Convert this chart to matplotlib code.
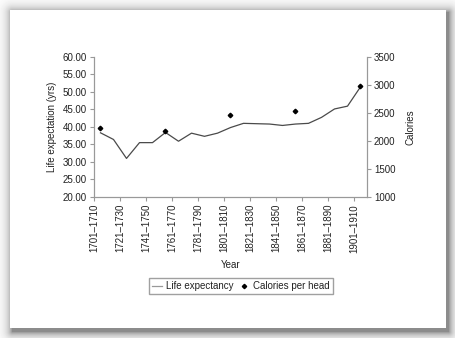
import numpy as np
import matplotlib.pyplot as plt
from matplotlib.patches import Rectangle
from matplotlib.lines import Line2D

plt.rcParams['font.family'] = ['Liberation Sans', 'DejaVu Sans']
plt.rcParams['font.size'] = 7

# Decades 1701-1710 ... 1901-1910
periods = [f"{y}\u2013{y + 9}" for y in range(1701, 1911, 10)]

life_expectancy = [38.3, 36.4, 31.0, 35.5, 35.5, 38.4, 35.9, 38.2, 37.3, 38.2,
                   39.8, 41.0, 40.9, 40.8, 40.4, 40.8, 41.0, 42.7, 45.1, 45.9, 51.4]

# Calories per head only known every fifty years
calories = [2225, np.nan, np.nan, np.nan, np.nan, 2175, np.nan, np.nan, np.nan, np.nan,
            2455, np.nan, np.nan, np.nan, np.nan, 2525, np.nan, np.nan, np.nan, np.nan, 2970]

W, H = 456, 338
fig = plt.figure(figsize=(W / 100, H / 100), dpi=100)

# drop shadow behind the white panel
px0, py0, px1, py1 = 10, 10, 446, 328
yy, xx = np.mgrid[0:H, 0:W]
dx = np.maximum(np.maximum(px0 + 2 - xx, xx - (px1 + 2)), 0)
dy = np.maximum(np.maximum(py0 + 2 - yy, yy - (py1 + 3)), 0)
dist = np.hypot(dx, dy)
shade = 1 - 0.45 * np.exp(-dist / 5)
fig.figimage(shade, cmap='gray', vmin=0, vmax=1, origin='upper', zorder=-3)
fig.patches.append(Rectangle((px0 / W, 1 - py1 / H), (px1 - px0) / W, (py1 - py0) / H,
                             transform=fig.transFigure, facecolor='white',
                             edgecolor='none', zorder=-2))

ax = fig.add_axes([94 / W, 1 - 197 / H, (367 - 94) / W, (197 - 56.7) / H])
ax.set_facecolor('none')
ax2 = ax.twinx()

x = np.arange(len(periods)) + 0.5
ax.plot(x, life_expectancy, color='#4a4a4a', lw=0.9)
ax2.plot(x, calories, linestyle='none', marker='D', ms=2.3, color='black')

ax.set_xlim(0, len(periods))
ax.set_ylim(20, 60)
ax.set_yticks(np.arange(20, 61, 5))
ax.set_yticklabels([f"{v:.2f}" for v in np.arange(20, 61, 5)])
ax2.set_ylim(1000, 3500)
ax2.set_yticks(np.arange(1000, 3501, 500))

ax.set_xticks(np.arange(0, len(periods), 2))
ax.set_xticklabels(periods[::2], rotation=90)

for a in (ax, ax2):
    for s in a.spines.values():
        s.set_color('#999999')
        s.set_linewidth(0.8)
    a.tick_params(colors='#999999', labelcolor='#222222', length=3, width=0.8, pad=2)
ax2.spines['top'].set_visible(False)
ax.spines['top'].set_visible(False)

ax.set_ylabel('Life expectation (yrs)', color='#222222', labelpad=4)
ax2.set_ylabel('Calories', color='#222222', labelpad=7)
ax.set_xlabel('Year', color='#222222', labelpad=5)

handles = [Line2D([], [], color='#999999', lw=0.9),
           Line2D([], [], linestyle='none', marker='D', ms=2.2, color='black')]
fig.legend(handles, ['Life expectancy', 'Calories per head'], loc='center',
           bbox_to_anchor=(241 / W, 1 - 286 / H), ncol=2, frameon=True, fancybox=False,
           edgecolor='#888888', handlelength=1.0, handletextpad=0.4, columnspacing=0.6,
           borderpad=0.3, labelcolor='#222222')

fig.savefig('out.png', dpi=100)
